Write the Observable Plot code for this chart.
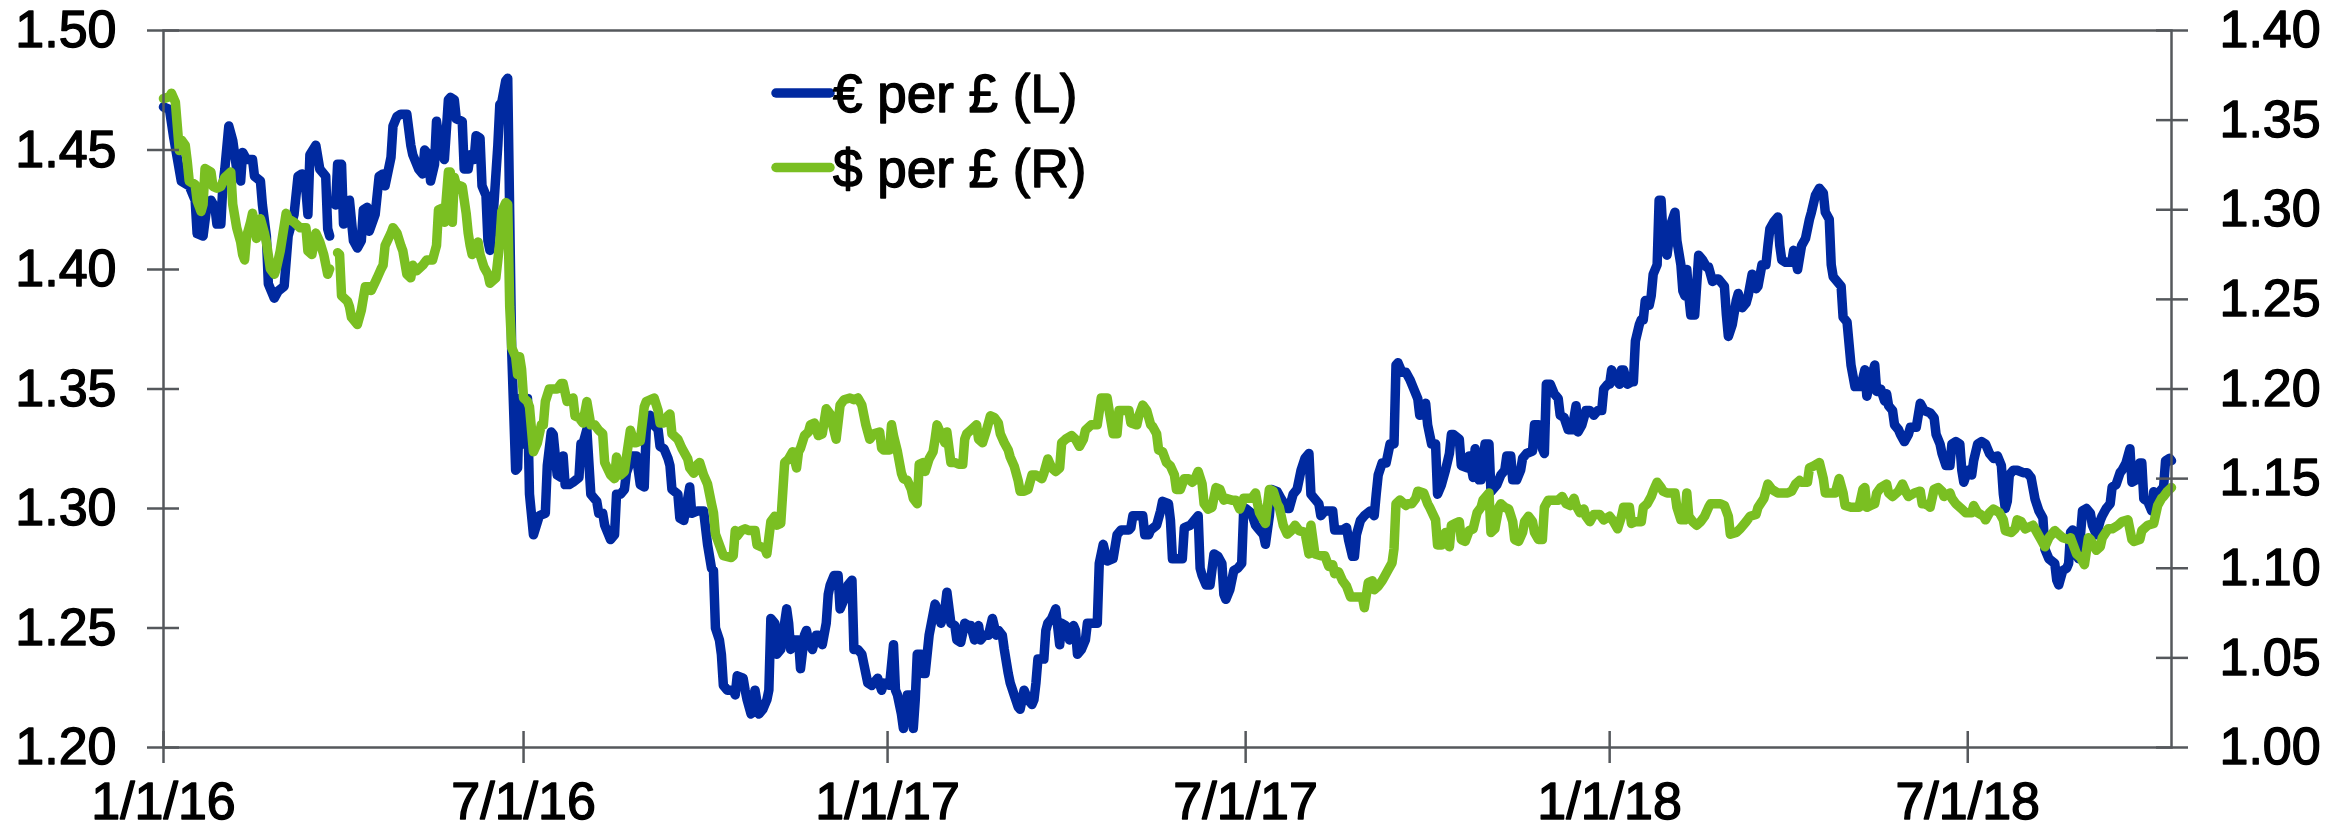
<!DOCTYPE html>
<html><head><meta charset="utf-8">
<script src="https://cdn.jsdelivr.net/npm/d3@7"></script>
<script src="https://cdn.jsdelivr.net/npm/@observablehq/plot@0.6"></script>
<style>
html,body{margin:0;padding:0;background:#fff;}
#wrap{position:relative;width:2351px;height:830px;font-family:"Liberation Sans",Arial,sans-serif;}
</style></head><body><div id="wrap"></div>
<script>
const seriesNames = ["€ per £ (L)", "$ per £ (R)"];
const seriesColors = ["#0029a0", "#7abf22"];
const leftTicks = [1.20, 1.25, 1.30, 1.35, 1.40, 1.45, 1.50];
const rightTicks = [1.00, 1.05, 1.10, 1.15, 1.20, 1.25, 1.30, 1.35, 1.40];
const xTickDates = ["2016-01-01","2016-07-01","2017-01-01","2017-07-01","2018-01-01","2018-07-01"];
const xDomain = ["2016-01-01","2018-10-12"];
const leftDomain = [1.20, 1.50];
const rightDomain = [1.00, 1.40];

// blue line, read against the left axis
const eurPerGbp = [
["2016-01-01",1.468],["2016-01-04",1.467],["2016-01-06",1.456],["2016-01-10",1.437],["2016-01-14",1.435],["2016-01-17",1.429],["2016-01-18",1.415],["2016-01-21",1.414],["2016-01-23",1.427],["2016-01-25",1.429],["2016-01-27",1.426],["2016-01-28",1.419],["2016-01-30",1.419],["2016-01-31",1.435],["2016-02-01",1.442],["2016-02-03",1.460],["2016-02-05",1.454],["2016-02-07",1.442],["2016-02-09",1.437],["2016-02-10",1.449],["2016-02-12",1.446],["2016-02-15",1.446],["2016-02-16",1.439],["2016-02-19",1.437],["2016-02-20",1.427],["2016-02-22",1.414],["2016-02-23",1.394],["2016-02-26",1.388],["2016-02-28",1.391],["2016-03-02",1.393],["2016-03-04",1.414],["2016-03-07",1.423],["2016-03-09",1.439],["2016-03-11",1.440],["2016-03-13",1.433],["2016-03-14",1.423],["2016-03-15",1.448],["2016-03-18",1.452],["2016-03-20",1.442],["2016-03-23",1.439],["2016-03-24",1.417],["2016-03-25",1.414],["2016-03-27",null],["2016-03-28",1.427],["2016-03-29",1.444],["2016-03-31",1.444],["2016-04-01",1.419],["2016-04-04",1.429],["2016-04-06",1.412],["2016-04-08",1.409],["2016-04-10",1.412],["2016-04-11",1.425],["2016-04-13",1.426],["2016-04-14",1.416],["2016-04-17",1.423],["2016-04-19",1.439],["2016-04-21",1.440],["2016-04-22",1.435],["2016-04-25",1.447],["2016-04-26",1.460],["2016-04-28",1.464],["2016-04-30",1.465],["2016-05-03",1.465],["2016-05-05",1.452],["2016-05-06",1.448],["2016-05-09",1.442],["2016-05-11",1.440],["2016-05-12",1.450],["2016-05-14",1.448],["2016-05-15",1.437],["2016-05-17",1.444],["2016-05-18",1.462],["2016-05-20",1.450],["2016-05-22",1.446],["2016-05-24",1.471],
["2016-05-25",1.472],["2016-05-27",1.471],["2016-05-28",1.463],["2016-05-31",1.462],["2016-06-01",1.442],["2016-06-03",1.442],["2016-06-04",1.448],["2016-06-06",1.446],["2016-06-07",1.456],["2016-06-09",1.455],["2016-06-10",1.435],["2016-06-12",1.431],["2016-06-13",1.412],["2016-06-14",1.408],["2016-06-16",1.427],["2016-06-18",1.452],["2016-06-19",1.469],["2016-06-20",1.470],["2016-06-22",1.479],["2016-06-23",1.480],["2016-06-24",1.423],["2016-06-25",1.366],["2016-06-27",1.316],["2016-06-28",1.317],["2016-06-29",1.346],["2016-07-01",1.327],["2016-07-03",1.346],["2016-07-04",1.306],["2016-07-06",1.289],["2016-07-09",1.297],["2016-07-12",1.298],["2016-07-13",1.318],["2016-07-15",1.332],["2016-07-16",1.331],["2016-07-18",1.314],["2016-07-20",1.313],["2016-07-21",1.322],["2016-07-22",1.310],["2016-07-24",1.310],["2016-07-26",1.311],["2016-07-29",1.313],["2016-07-30",1.327],["2016-07-31",1.327],["2016-08-02",1.333],["2016-08-04",1.306],["2016-08-06",1.304],["2016-08-07",1.303],["2016-08-08",1.298],["2016-08-10",1.298],["2016-08-11",1.293],["2016-08-14",1.287],["2016-08-16",1.289],["2016-08-17",1.306],["2016-08-19",1.306],["2016-08-21",1.308],["2016-08-22",1.315],["2016-08-25",1.322],["2016-08-27",1.322],["2016-08-29",1.310],["2016-08-31",1.309],["2016-09-01",1.333],["2016-09-03",1.339],["2016-09-05",1.335],["2016-09-07",1.333],["2016-09-08",1.326],["2016-09-10",1.325],["2016-09-12",1.321],["2016-09-13",1.318],["2016-09-14",1.308],["2016-09-17",1.306],["2016-09-18",1.296],["2016-09-20",1.295],["2016-09-23",1.309],["2016-09-24",1.298],["2016-09-27",1.299],["2016-09-30",1.299],["2016-10-02",1.285],["2016-10-04",1.275],["2016-10-05",1.274],["2016-10-06",1.250],["2016-10-08",1.245],["2016-10-09",1.239],["2016-10-10",1.226],["2016-10-12",1.224],["2016-10-15",1.224],["2016-10-16",1.222],
["2016-10-17",1.230],["2016-10-20",1.229],["2016-10-21",1.224],["2016-10-22",1.220],["2016-10-24",1.214],["2016-10-26",1.224],["2016-10-28",1.214],["2016-10-30",1.216],["2016-11-01",1.220],["2016-11-02",1.224],["2016-11-03",1.254],["2016-11-05",1.252],["2016-11-06",1.239],["2016-11-08",1.241],["2016-11-11",1.258],["2016-11-12",1.252],["2016-11-13",1.241],["2016-11-15",1.245],["2016-11-17",1.245],["2016-11-18",1.233],["2016-11-20",1.247],["2016-11-21",1.249],["2016-11-22",1.245],["2016-11-24",1.241],["2016-11-26",1.247],["2016-11-27",1.247],["2016-11-29",1.243],["2016-12-01",1.252],["2016-12-02",1.264],["2016-12-03",1.268],["2016-12-05",1.272],["2016-12-07",1.272],["2016-12-08",1.258],["2016-12-10",1.262],["2016-12-12",1.268],["2016-12-14",1.270],["2016-12-15",1.241],["2016-12-17",1.241],["2016-12-19",1.239],["2016-12-20",1.235],["2016-12-22",1.227],["2016-12-24",1.226],["2016-12-25",1.227],["2016-12-27",1.229],["2016-12-29",1.224],["2016-12-30",1.227],["2017-01-02",1.226],["2017-01-04",1.243],["2017-01-05",1.224],["2017-01-06",1.222],["2017-01-08",1.214],["2017-01-09",1.208],["2017-01-11",1.222],["2017-01-13",1.222],["2017-01-14",1.208],["2017-01-15",1.220],["2017-01-16",1.239],["2017-01-18",1.239],["2017-01-19",1.231],["2017-01-20",1.231],["2017-01-22",1.247],["2017-01-25",1.260],["2017-01-26",1.258],["2017-01-28",1.252],["2017-01-30",1.258],["2017-01-31",1.265],["2017-02-02",1.252],["2017-02-04",1.251],["2017-02-05",1.245],["2017-02-07",1.244],["2017-02-09",1.252],["2017-02-11",1.251],["2017-02-12",1.251],["2017-02-14",1.245],["2017-02-16",1.251],["2017-02-17",1.245],["2017-02-19",1.247],["2017-02-21",1.247],["2017-02-23",1.254],["2017-02-25",1.247],["2017-02-26",1.249],["2017-02-28",1.247],["2017-03-01",1.241],["2017-03-03",1.231],["2017-03-04",1.227],["2017-03-06",1.222],["2017-03-08",1.217],["2017-03-09",1.216],
["2017-03-11",1.224],["2017-03-13",1.220],["2017-03-15",1.218],["2017-03-16",1.220],["2017-03-17",1.227],["2017-03-18",1.237],["2017-03-21",1.237],["2017-03-22",1.249],["2017-03-23",1.252],["2017-03-25",1.254],["2017-03-26",1.256],["2017-03-27",1.258],["2017-03-29",1.243],["2017-03-30",1.252],["2017-04-01",1.251],["2017-04-03",1.245],["2017-04-05",1.251],["2017-04-06",1.249],["2017-04-07",1.239],["2017-04-09",1.241],["2017-04-11",1.245],["2017-04-12",1.252],["2017-04-14",1.252],["2017-04-17",1.252],["2017-04-18",1.277],["2017-04-20",1.285],["2017-04-22",1.278],["2017-04-25",1.279],["2017-04-27",1.289],["2017-04-29",1.291],["2017-05-03",1.291],["2017-05-04",1.292],["2017-05-05",1.297],["2017-05-08",1.297],["2017-05-10",1.297],["2017-05-11",1.289],["2017-05-13",1.289],["2017-05-14",1.291],["2017-05-17",1.293],["2017-05-19",1.299],["2017-05-20",1.303],["2017-05-23",1.302],["2017-05-24",1.295],["2017-05-25",1.279],["2017-05-28",1.279],["2017-05-30",1.279],["2017-05-31",1.292],["2017-06-03",1.293],["2017-06-05",1.295],["2017-06-07",1.297],["2017-06-08",1.275],["2017-06-09",1.272],["2017-06-11",1.268],["2017-06-13",1.268],["2017-06-15",1.281],["2017-06-17",1.280],["2017-06-19",1.277],["2017-06-20",1.264],["2017-06-21",1.262],["2017-06-23",1.266],["2017-06-25",1.274],["2017-06-27",1.275],["2017-06-29",1.277],["2017-06-30",1.299],["2017-07-01",1.300],["2017-07-04",1.298],["2017-07-06",1.293],["2017-07-07",1.292],["2017-07-10",1.289],["2017-07-11",1.285],["2017-07-13",1.297],["2017-07-14",1.308],["2017-07-17",1.307],["2017-07-19",1.304],["2017-07-22",1.300],["2017-07-23",1.300],["2017-07-25",1.306],["2017-07-27",1.308],["2017-07-29",1.316],["2017-07-31",1.321],["2017-08-02",1.323],["2017-08-03",1.306],
["2017-08-05",1.304],["2017-08-07",1.302],["2017-08-08",1.297],["2017-08-10",1.299],["2017-08-13",1.299],["2017-08-14",1.299],["2017-08-15",1.291],["2017-08-18",1.291],["2017-08-19",1.291],["2017-08-21",1.292],["2017-08-22",1.287],["2017-08-24",1.280],["2017-08-25",1.280],["2017-08-26",1.289],["2017-08-28",1.295],["2017-08-30",1.297],["2017-09-02",1.299],["2017-09-04",1.297],["2017-09-05",1.306],["2017-09-06",1.314],["2017-09-08",1.319],["2017-09-10",1.319],["2017-09-12",1.327],["2017-09-14",1.327],["2017-09-15",1.360],["2017-09-16",1.361],["2017-09-18",1.357],["2017-09-20",1.357],["2017-09-22",1.354],["2017-09-24",1.350],["2017-09-26",1.346],["2017-09-27",1.339],["2017-09-30",1.344],["2017-10-01",1.335],["2017-10-03",1.327],["2017-10-05",1.327],["2017-10-06",1.306],["2017-10-08",1.310],["2017-10-10",1.316],["2017-10-12",1.323],["2017-10-13",1.331],["2017-10-14",1.331],["2017-10-17",1.329],["2017-10-18",1.318],["2017-10-21",1.317],["2017-10-22",1.322],["2017-10-24",1.313],["2017-10-25",1.325],["2017-10-27",1.312],["2017-10-28",1.312],["2017-10-30",1.327],["2017-11-01",1.327],["2017-11-02",1.307],["2017-11-05",1.310],["2017-11-07",1.314],["2017-11-09",1.316],["2017-11-10",1.322],["2017-11-12",1.322],["2017-11-13",1.312],["2017-11-15",1.312],["2017-11-17",1.316],["2017-11-18",1.321],["2017-11-20",1.323],["2017-11-23",1.324],["2017-11-24",1.335],["2017-11-26",1.335],["2017-11-28",1.325],["2017-11-29",1.323],["2017-11-30",1.352],["2017-12-02",1.352],["2017-12-04",1.348],["2017-12-06",1.346],["2017-12-07",1.339],["2017-12-09",1.338],["2017-12-11",1.333],["2017-12-13",1.333],["2017-12-15",1.343],["2017-12-16",1.332],["2017-12-18",1.335],["2017-12-20",1.341],["2017-12-22",1.341],["2017-12-24",1.339],["2017-12-26",1.341],
["2017-12-27",1.341],["2017-12-28",1.341],["2017-12-29",1.350],["2017-12-31",1.352],["2018-01-01",1.352],["2018-01-02",1.358],["2018-01-04",1.354],["2018-01-06",1.352],["2018-01-07",1.358],["2018-01-08",1.358],["2018-01-10",1.352],["2018-01-12",1.353],["2018-01-13",1.353],["2018-01-14",1.370],["2018-01-16",1.377],["2018-01-17",1.379],["2018-01-18",1.379],["2018-01-19",1.387],["2018-01-21",1.385],["2018-01-22",1.389],["2018-01-23",1.398],["2018-01-25",1.402],["2018-01-26",1.429],["2018-01-27",1.429],["2018-01-28",1.414],["2018-01-29",1.408],["2018-01-30",1.406],["2018-02-01",1.419],["2018-02-03",1.424],["2018-02-04",1.412],["2018-02-06",1.402],["2018-02-07",1.391],["2018-02-08",1.389],["2018-02-09",1.400],["2018-02-10",1.389],["2018-02-11",1.381],["2018-02-13",1.381],["2018-02-15",1.406],["2018-02-17",1.404],["2018-02-19",1.401],["2018-02-20",1.401],["2018-02-22",1.395],["2018-02-24",1.396],["2018-02-25",1.396],["2018-02-28",1.393],["2018-03-01",1.381],["2018-03-02",1.372],["2018-03-04",1.377],["2018-03-06",1.387],["2018-03-07",1.390],["2018-03-09",1.384],["2018-03-11",1.386],["2018-03-12",1.389],["2018-03-14",1.398],["2018-03-16",1.392],["2018-03-17",1.393],["2018-03-19",1.402],["2018-03-21",1.402],["2018-03-22",1.410],["2018-03-23",1.417],["2018-03-25",1.420],["2018-03-27",1.422],["2018-03-28",1.410],["2018-03-29",1.404],["2018-03-31",1.403],["2018-04-03",1.403],["2018-04-04",1.408],["2018-04-06",1.400],["2018-04-08",1.410],["2018-04-10",1.413],["2018-04-12",1.421],["2018-04-13",1.424],["2018-04-15",1.431],["2018-04-17",1.434],["2018-04-19",1.432],["2018-04-20",1.424],["2018-04-22",1.421],["2018-04-23",1.402],["2018-04-24",1.397],["2018-04-26",1.395],["2018-04-28",1.393],["2018-04-29",1.380],["2018-05-01",1.378],["2018-05-03",1.360],["2018-05-05",1.351],["2018-05-06",1.351],["2018-05-08",1.351],["2018-05-10",1.358],["2018-05-11",1.347],["2018-05-13",1.354],["2018-05-15",1.360],["2018-05-16",1.349],["2018-05-18",1.350],["2018-05-20",1.345],
["2018-05-21",1.348],["2018-05-22",1.343],["2018-05-24",1.341],["2018-05-25",1.335],["2018-05-27",1.333],["2018-05-28",1.331],["2018-05-30",1.328],["2018-06-01",1.331],["2018-06-02",1.334],["2018-06-05",1.334],["2018-06-07",1.344],["2018-06-09",1.341],["2018-06-12",1.340],["2018-06-14",1.338],["2018-06-15",1.331],["2018-06-17",1.327],["2018-06-18",1.323],["2018-06-20",1.318],["2018-06-22",1.318],["2018-06-23",1.327],["2018-06-25",1.328],["2018-06-27",1.327],["2018-06-28",1.316],["2018-06-29",1.311],["2018-07-01",1.316],["2018-07-03",1.314],["2018-07-04",1.320],["2018-07-06",1.327],["2018-07-08",1.328],["2018-07-10",1.327],["2018-07-12",1.323],["2018-07-14",1.321],["2018-07-16",1.322],["2018-07-18",1.318],["2018-07-19",1.306],["2018-07-20",1.300],["2018-07-21",1.303],["2018-07-22",1.314],["2018-07-24",1.316],["2018-07-26",1.316],["2018-07-29",1.315],["2018-07-31",1.315],["2018-08-02",1.313],["2018-08-04",1.304],["2018-08-06",1.299],["2018-08-08",1.296],["2018-08-09",1.283],["2018-08-11",1.279],["2018-08-14",1.277],["2018-08-15",1.270],["2018-08-16",1.268],["2018-08-18",1.274],["2018-08-20",1.275],["2018-08-21",1.277],["2018-08-22",1.290],["2018-08-23",1.291],["2018-08-25",1.281],["2018-08-26",1.279],["2018-08-28",1.299],["2018-08-30",1.300],["2018-09-01",1.298],["2018-09-02",1.293],["2018-09-04",1.289],["2018-09-06",1.295],["2018-09-07",1.297],["2018-09-09",1.300],["2018-09-11",1.302],["2018-09-12",1.309],["2018-09-14",1.310],["2018-09-16",1.315],["2018-09-17",1.316],["2018-09-19",1.319],["2018-09-21",1.325],["2018-09-22",1.311],["2018-09-24",1.312],["2018-09-26",1.319],["2018-09-27",1.319],["2018-09-28",1.304],["2018-09-30",1.303],["2018-10-02",1.299],["2018-10-03",1.307],["2018-10-04",1.306],["2018-10-06",1.307],["2018-10-08",1.309],["2018-10-09",1.320],["2018-10-11",1.321],["2018-10-12",1.320]
];

// green line, read against the right axis
const usdPerGbp = [
["2016-01-01",1.362],["2016-01-04",1.363],["2016-01-05",1.365],["2016-01-07",1.360],["2016-01-09",1.333],["2016-01-10",1.339],["2016-01-12",1.336],["2016-01-13",1.327],["2016-01-14",1.316],["2016-01-17",1.314],["2016-01-18",1.305],["2016-01-20",1.299],["2016-01-21",1.303],["2016-01-22",1.323],["2016-01-25",1.321],["2016-01-26",1.313],["2016-01-28",1.312],["2016-01-30",1.313],["2016-02-01",1.318],["2016-02-04",1.321],["2016-02-05",1.303],["2016-02-07",1.290],["2016-02-09",1.282],["2016-02-10",1.275],["2016-02-11",1.272],["2016-02-12",1.285],["2016-02-14",1.293],["2016-02-15",1.298],["2016-02-17",1.284],["2016-02-19",1.295],["2016-02-21",1.287],["2016-02-22",1.282],["2016-02-24",1.267],["2016-02-26",1.264],["2016-02-27",1.267],["2016-02-29",1.277],["2016-03-03",1.298],["2016-03-04",1.295],["2016-03-07",1.293],["2016-03-10",1.290],["2016-03-13",1.290],["2016-03-14",1.277],["2016-03-16",1.275],["2016-03-18",1.287],["2016-03-20",1.282],["2016-03-22",1.275],["2016-03-24",1.264],["2016-03-25",1.267],["2016-03-27",null],["2016-03-29",1.276],["2016-03-30",1.275],["2016-03-31",1.252],["2016-04-03",1.249],["2016-04-04",1.246],["2016-04-05",1.240],["2016-04-08",1.236],["2016-04-10",1.244],["2016-04-12",1.257],["2016-04-14",1.257],["2016-04-15",1.255],["2016-04-18",1.262],["2016-04-20",1.267],["2016-04-21",1.269],["2016-04-22",1.280],["2016-04-25",1.287],["2016-04-26",1.290],["2016-04-28",1.287],["2016-04-30",1.280],["2016-05-01",1.277],["2016-05-03",1.264],["2016-05-05",1.262],["2016-05-06",1.269],["2016-05-08",1.266],["2016-05-11",1.269],["2016-05-13",1.272],["2016-05-15",1.272],["2016-05-16",1.272],["2016-05-18",1.280],["2016-05-19",1.300],["2016-05-21",1.301],["2016-05-22",1.293],["2016-05-24",1.321],
["2016-05-25",1.321],["2016-05-26",1.293],["2016-05-27",1.318],["2016-05-28",1.314],["2016-05-31",1.313],["2016-06-02",1.298],["2016-06-03",1.287],["2016-06-04",1.280],["2016-06-05",1.275],["2016-06-07",1.277],["2016-06-08",1.282],["2016-06-09",1.275],["2016-06-11",1.268],["2016-06-13",1.264],["2016-06-14",1.259],["2016-06-17",1.262],["2016-06-19",1.282],["2016-06-20",1.299],["2016-06-22",1.304],["2016-06-23",1.303],["2016-06-24",1.246],["2016-06-25",1.223],["2016-06-27",1.218],["2016-06-28",1.208],["2016-06-29",1.218],["2016-06-30",1.211],["2016-07-01",1.195],["2016-07-03",1.193],["2016-07-04",1.190],["2016-07-06",1.165],["2016-07-08",1.170],["2016-07-10",1.180],["2016-07-11",1.180],["2016-07-12",1.193],["2016-07-14",1.200],["2016-07-16",1.200],["2016-07-18",1.200],["2016-07-20",1.203],["2016-07-21",1.203],["2016-07-23",1.193],["2016-07-26",1.195],["2016-07-27",1.185],["2016-07-29",1.184],["2016-07-31",1.181],["2016-08-02",1.193],["2016-08-04",1.180],["2016-08-06",1.180],["2016-08-08",1.177],["2016-08-10",1.175],["2016-08-11",1.159],["2016-08-14",1.152],["2016-08-16",1.150],["2016-08-17",1.162],["2016-08-19",1.152],["2016-08-21",1.154],["2016-08-22",1.162],["2016-08-24",1.177],["2016-08-26",1.170],["2016-08-27",1.170],["2016-08-29",1.171],["2016-08-31",1.190],["2016-09-01",1.193],["2016-09-03",1.194],["2016-09-05",1.195],["2016-09-07",1.188],["2016-09-08",1.181],["2016-09-10",1.181],["2016-09-12",1.185],["2016-09-13",1.186],["2016-09-14",1.175],["2016-09-17",1.172],["2016-09-19",1.167],["2016-09-22",1.161],["2016-09-23",1.156],["2016-09-25",1.153],["2016-09-27",1.158],["2016-09-28",1.159],["2016-09-30",1.152],["2016-10-02",1.147],["2016-10-04",1.136],["2016-10-05",1.131],["2016-10-06",1.119],["2016-10-08",1.113],["2016-10-10",1.107],["2016-10-14",1.106],["2016-10-15",1.107],["2016-10-16",1.121],
["2016-10-17",1.118],["2016-10-19",1.121],["2016-10-21",1.122],["2016-10-23",1.121],["2016-10-26",1.121],["2016-10-27",1.113],["2016-10-29",1.112],["2016-10-31",1.111],["2016-11-01",1.108],["2016-11-03",1.126],["2016-11-05",1.129],["2016-11-06",1.124],["2016-11-08",1.125],["2016-11-10",1.159],["2016-11-12",1.161],["2016-11-14",1.165],["2016-11-16",1.156],["2016-11-17",1.165],["2016-11-18",1.167],["2016-11-20",1.174],["2016-11-22",1.176],["2016-11-23",1.180],["2016-11-25",1.181],["2016-11-27",1.174],["2016-11-29",1.175],["2016-12-01",1.189],["2016-12-03",1.186],["2016-12-04",1.181],["2016-12-06",1.172],["2016-12-08",1.191],["2016-12-10",1.194],["2016-12-13",1.195],["2016-12-15",1.194],["2016-12-17",1.195],["2016-12-19",1.191],["2016-12-21",1.180],["2016-12-23",1.172],["2016-12-25",1.175],["2016-12-28",1.176],["2016-12-29",1.167],["2016-12-30",1.166],["2017-01-02",1.166],["2017-01-03",1.180],["2017-01-04",1.174],["2017-01-06",1.165],["2017-01-08",1.153],["2017-01-09",1.150],["2017-01-11",1.149],["2017-01-13",1.144],["2017-01-14",1.139],["2017-01-16",1.136],["2017-01-17",1.158],["2017-01-19",1.159],["2017-01-20",1.154],["2017-01-22",1.161],["2017-01-24",1.165],["2017-01-25",1.172],["2017-01-26",1.180],["2017-01-28",1.175],["2017-01-30",1.170],["2017-01-31",1.176],["2017-02-02",1.159],["2017-02-04",1.159],["2017-02-06",1.158],["2017-02-08",1.158],["2017-02-09",1.172],["2017-02-10",1.175],["2017-02-12",1.177],["2017-02-15",1.180],["2017-02-16",1.172],["2017-02-18",1.170],["2017-02-20",1.177],["2017-02-22",1.185],["2017-02-24",1.184],["2017-02-26",1.181],["2017-02-27",1.175],["2017-03-01",1.170],["2017-03-03",1.166],["2017-03-04",1.162],["2017-03-06",1.157],["2017-03-08",1.149],["2017-03-09",1.143],
["2017-03-11",1.143],["2017-03-13",1.144],["2017-03-15",1.152],["2017-03-17",1.152],["2017-03-20",1.150],["2017-03-21",1.153],["2017-03-23",1.161],["2017-03-25",1.156],["2017-03-27",1.154],["2017-03-29",1.156],["2017-03-30",1.170],["2017-04-01",1.172],["2017-04-04",1.174],["2017-04-06",1.172],["2017-04-08",1.168],["2017-04-10",1.172],["2017-04-11",1.177],["2017-04-14",1.180],["2017-04-17",1.180],["2017-04-19",1.195],["2017-04-22",1.195],["2017-04-23",1.188],["2017-04-25",1.175],["2017-04-27",1.175],["2017-04-28",1.188],["2017-04-30",1.188],["2017-05-03",1.188],["2017-05-04",1.181],["2017-05-07",1.180],["2017-05-08",1.185],["2017-05-10",1.191],["2017-05-12",1.188],["2017-05-14",1.180],["2017-05-15",1.179],["2017-05-17",1.175],["2017-05-18",1.166],["2017-05-20",1.165],["2017-05-22",1.159],["2017-05-24",1.157],["2017-05-26",1.152],["2017-05-27",1.144],["2017-05-29",1.144],["2017-05-31",1.150],["2017-06-02",1.150],["2017-06-04",1.148],["2017-06-05",1.149],["2017-06-07",1.154],["2017-06-09",1.147],["2017-06-10",1.136],["2017-06-12",1.133],["2017-06-14",1.134],["2017-06-16",1.145],["2017-06-18",1.144],["2017-06-20",1.138],["2017-06-21",1.139],["2017-06-24",1.138],["2017-06-26",1.138],["2017-06-28",1.133],["2017-06-30",1.139],["2017-07-01",1.139],["2017-07-04",1.139],["2017-07-06",1.142],["2017-07-07",1.136],["2017-07-08",1.131],["2017-07-10",1.127],["2017-07-11",1.125],["2017-07-13",1.144],["2017-07-15",1.143],["2017-07-17",1.136],["2017-07-18",1.134],["2017-07-20",1.124],["2017-07-22",1.119],["2017-07-24",1.121],["2017-07-26",1.124],["2017-07-28",1.121],["2017-07-31",1.120],["2017-08-02",1.108],
["2017-08-03",1.124],["2017-08-05",1.108],["2017-08-08",1.107],["2017-08-10",1.107],["2017-08-12",1.101],["2017-08-14",1.102],["2017-08-15",1.097],["2017-08-17",1.098],["2017-08-19",1.093],["2017-08-21",1.090],["2017-08-23",1.084],["2017-08-24",1.084],["2017-08-27",1.084],["2017-08-29",1.084],["2017-08-30",1.078],["2017-09-01",1.092],["2017-09-03",1.093],["2017-09-04",1.088],["2017-09-06",1.090],["2017-09-08",1.093],["2017-09-09",1.095],["2017-09-11",1.099],["2017-09-13",1.103],["2017-09-14",1.111],["2017-09-15",1.136],["2017-09-17",1.138],["2017-09-20",1.135],["2017-09-21",1.136],["2017-09-23",1.136],["2017-09-25",1.139],["2017-09-26",1.143],["2017-09-29",1.142],["2017-10-01",1.136],["2017-10-02",1.134],["2017-10-05",1.127],["2017-10-06",1.113],["2017-10-08",1.113],["2017-10-10",1.120],["2017-10-11",1.115],["2017-10-12",1.112],["2017-10-13",1.124],["2017-10-15",1.125],["2017-10-17",1.126],["2017-10-18",1.116],["2017-10-20",1.115],["2017-10-22",1.121],["2017-10-24",1.122],["2017-10-26",1.131],["2017-10-28",1.134],["2017-10-29",1.138],["2017-11-01",1.142],["2017-11-02",1.120],["2017-11-04",1.122],["2017-11-06",1.134],["2017-11-07",1.136],["2017-11-09",1.134],["2017-11-11",1.133],["2017-11-13",1.126],["2017-11-14",1.116],["2017-11-16",1.115],["2017-11-18",1.120],["2017-11-19",1.126],["2017-11-21",1.129],["2017-11-23",1.126],["2017-11-24",1.120],["2017-11-26",1.116],["2017-11-28",1.116],["2017-11-29",1.134],["2017-12-01",1.138],["2017-12-04",1.138],["2017-12-06",1.138],["2017-12-08",1.140],["2017-12-10",1.136],["2017-12-12",1.135],["2017-12-14",1.139],["2017-12-15",1.135],["2017-12-17",1.131],["2017-12-19",1.133],["2017-12-20",1.129],["2017-12-22",1.126],["2017-12-24",1.130],
["2017-12-27",1.130],["2017-12-29",1.127],["2018-01-01",1.129],["2018-01-03",1.126],["2018-01-05",1.122],["2018-01-07",1.129],["2018-01-08",1.134],["2018-01-11",1.134],["2018-01-12",1.125],["2018-01-14",1.126],["2018-01-17",1.126],["2018-01-18",1.134],["2018-01-20",1.136],["2018-01-22",1.140],["2018-01-23",1.143],["2018-01-25",1.148],["2018-01-27",1.145],["2018-01-28",1.143],["2018-01-30",1.142],["2018-02-01",1.142],["2018-02-03",1.142],["2018-02-04",1.134],["2018-02-06",1.127],["2018-02-08",1.127],["2018-02-09",1.142],["2018-02-10",1.129],["2018-02-12",1.126],["2018-02-14",1.124],["2018-02-16",1.126],["2018-02-18",1.129],["2018-02-20",1.134],["2018-02-21",1.136],["2018-02-23",1.136],["2018-02-24",1.136],["2018-02-26",1.136],["2018-02-28",1.135],["2018-03-02",1.129],["2018-03-03",1.119],["2018-03-06",1.120],["2018-03-08",1.122],["2018-03-11",1.126],["2018-03-13",1.129],["2018-03-16",1.130],["2018-03-17",1.134],["2018-03-20",1.139],["2018-03-22",1.147],["2018-03-24",1.144],["2018-03-27",1.142],["2018-03-29",1.142],["2018-04-01",1.142],["2018-04-03",1.143],["2018-04-05",1.147],["2018-04-07",1.149],["2018-04-08",1.148],["2018-04-11",1.148],["2018-04-12",1.156],["2018-04-14",1.157],["2018-04-17",1.159],["2018-04-19",1.150],["2018-04-20",1.142],["2018-04-23",1.142],["2018-04-25",1.142],["2018-04-27",1.150],["2018-04-29",1.142],["2018-04-30",1.135],["2018-05-03",1.134],["2018-05-05",1.134],["2018-05-07",1.134],["2018-05-09",1.144],["2018-05-10",1.145],["2018-05-11",1.134],["2018-05-13",1.135],["2018-05-15",1.136],["2018-05-16",1.142],["2018-05-18",1.145],
["2018-05-21",1.147],["2018-05-22",1.142],["2018-05-24",1.140],["2018-05-27",1.143],["2018-05-29",1.147],["2018-05-31",1.142],["2018-06-01",1.140],["2018-06-04",1.142],["2018-06-07",1.143],["2018-06-08",1.136],["2018-06-09",1.136],["2018-06-11",1.135],["2018-06-12",1.134],["2018-06-14",1.144],["2018-06-16",1.145],["2018-06-18",1.143],["2018-06-19",1.140],["2018-06-22",1.142],["2018-06-23",1.139],["2018-06-25",1.136],["2018-06-28",1.133],["2018-06-30",1.131],["2018-07-03",1.131],["2018-07-04",1.135],["2018-07-06",1.131],["2018-07-09",1.129],["2018-07-10",1.127],["2018-07-12",1.131],["2018-07-14",1.133],["2018-07-17",1.131],["2018-07-19",1.127],["2018-07-20",1.121],["2018-07-23",1.120],["2018-07-25",1.122],["2018-07-26",1.127],["2018-07-28",1.126],["2018-07-30",1.122],["2018-08-03",1.124],["2018-08-05",1.120],["2018-08-07",1.116],["2018-08-09",1.112],["2018-08-11",1.117],["2018-08-14",1.121],["2018-08-15",1.120],["2018-08-18",1.117],["2018-08-21",1.116],["2018-08-22",1.117],["2018-08-25",1.108],["2018-08-27",1.106],["2018-08-29",1.102],["2018-08-31",1.117],["2018-09-01",1.116],["2018-09-04",1.110],["2018-09-06",1.112],["2018-09-07",1.117],["2018-09-10",1.122],["2018-09-12",1.122],["2018-09-15",1.124],["2018-09-17",1.126],["2018-09-20",1.127],["2018-09-22",1.116],["2018-09-23",1.115],["2018-09-26",1.116],["2018-09-27",1.121],["2018-09-30",1.124],["2018-10-03",1.125],["2018-10-04",1.130],["2018-10-05",1.135],["2018-10-07",1.139],["2018-10-08",1.140],["2018-10-10",1.143],["2018-10-12",1.145]
];

const parse = d3.utcParse("%Y-%m-%d");
const k = (leftDomain[1] - leftDomain[0]) / (rightDomain[1] - rightDomain[0]);
const toLeft = v => leftDomain[0] + (v - rightDomain[0]) * k;
const fromLeft = v => rightDomain[0] + (v - leftDomain[0]) / k;

const blueData = eurPerGbp.map(([d, v]) => ({date: parse(d), value: v == null ? NaN : v}));
const greenData = usdPerGbp.map(([d, v]) => ({date: parse(d), value: v == null ? NaN : toLeft(v)}));

const axisColor = "#55585c";
const fontStack = "'Liberation Sans', Arial, sans-serif";
const fmtDate = d => `${d.getUTCMonth() + 1}/${d.getUTCDate()}/${String(d.getUTCFullYear()).slice(2)}`;
const lineStyle = {strokeWidth: 9.5, strokeLinejoin: "round", strokeLinecap: "round"};
const textStyle = {fill: "#000", textStroke: "#000", textStrokeWidth: 1.4};

const chart = Plot.plot({
  width: 2351,
  height: 830,
  marginLeft: 163,
  marginRight: 180,
  marginTop: 30,
  marginBottom: 83,
  style: {fontFamily: fontStack, fontSize: "52px", color: "#000", background: "#fff", overflow: "visible"},
  x: {type: "utc", domain: xDomain.map(parse)},
  y: {domain: leftDomain},
  marks: [
    Plot.line(blueData, {x: "date", y: "value", stroke: seriesColors[0], ...lineStyle}),
    Plot.line(greenData, {x: "date", y: "value", stroke: seriesColors[1], ...lineStyle}),
    Plot.frame({stroke: axisColor, strokeWidth: 2.5}),
    Plot.axisY({anchor: "left", ticks: leftTicks, tickSize: 32, dx: 16, tickPadding: 31, tickFormat: d => d.toFixed(2), stroke: axisColor, strokeWidth: 2.5, ...textStyle, label: null}),
    Plot.axisY({anchor: "right", ticks: rightTicks.map(toLeft), tickSize: 32, dx: -16, tickPadding: 32, tickFormat: d => fromLeft(d).toFixed(2), stroke: axisColor, strokeWidth: 2.5, ...textStyle, label: null}),
    Plot.axisX({anchor: "bottom", ticks: xTickDates.map(parse), tickSize: 32, dy: -16, tickPadding: 19, tickFormat: fmtDate, stroke: axisColor, strokeWidth: 2.5, ...textStyle, label: null})
  ]
});

const wrap = document.getElementById("wrap");
wrap.appendChild(chart);

// legend drawn inside the plot area
const legend = d3.create("svg")
  .attr("width", 520).attr("height", 200)
  .style("position", "absolute").style("left", "760px").style("top", "50px")
  .style("overflow", "visible");
const items = legend.selectAll("g").data(seriesNames).join("g")
  .attr("transform", (d, i) => `translate(0, ${43 + i * 74.5})`);
items.append("line").attr("x1", 16).attr("x2", 70).attr("y1", 0).attr("y2", 0)
  .attr("stroke", (d, i) => seriesColors[i]).attr("stroke-width", 9.5).attr("stroke-linecap", "round");
items.append("text").attr("x", 73).attr("y", 19).text(d => d)
  .attr("font-family", fontStack).attr("font-size", 53).attr("fill", "#000")
  .attr("stroke", "#000").attr("stroke-width", 1.4).attr("paint-order", "stroke").attr("stroke-linejoin", "round");
wrap.appendChild(legend.node());
</script>
</body></html>
